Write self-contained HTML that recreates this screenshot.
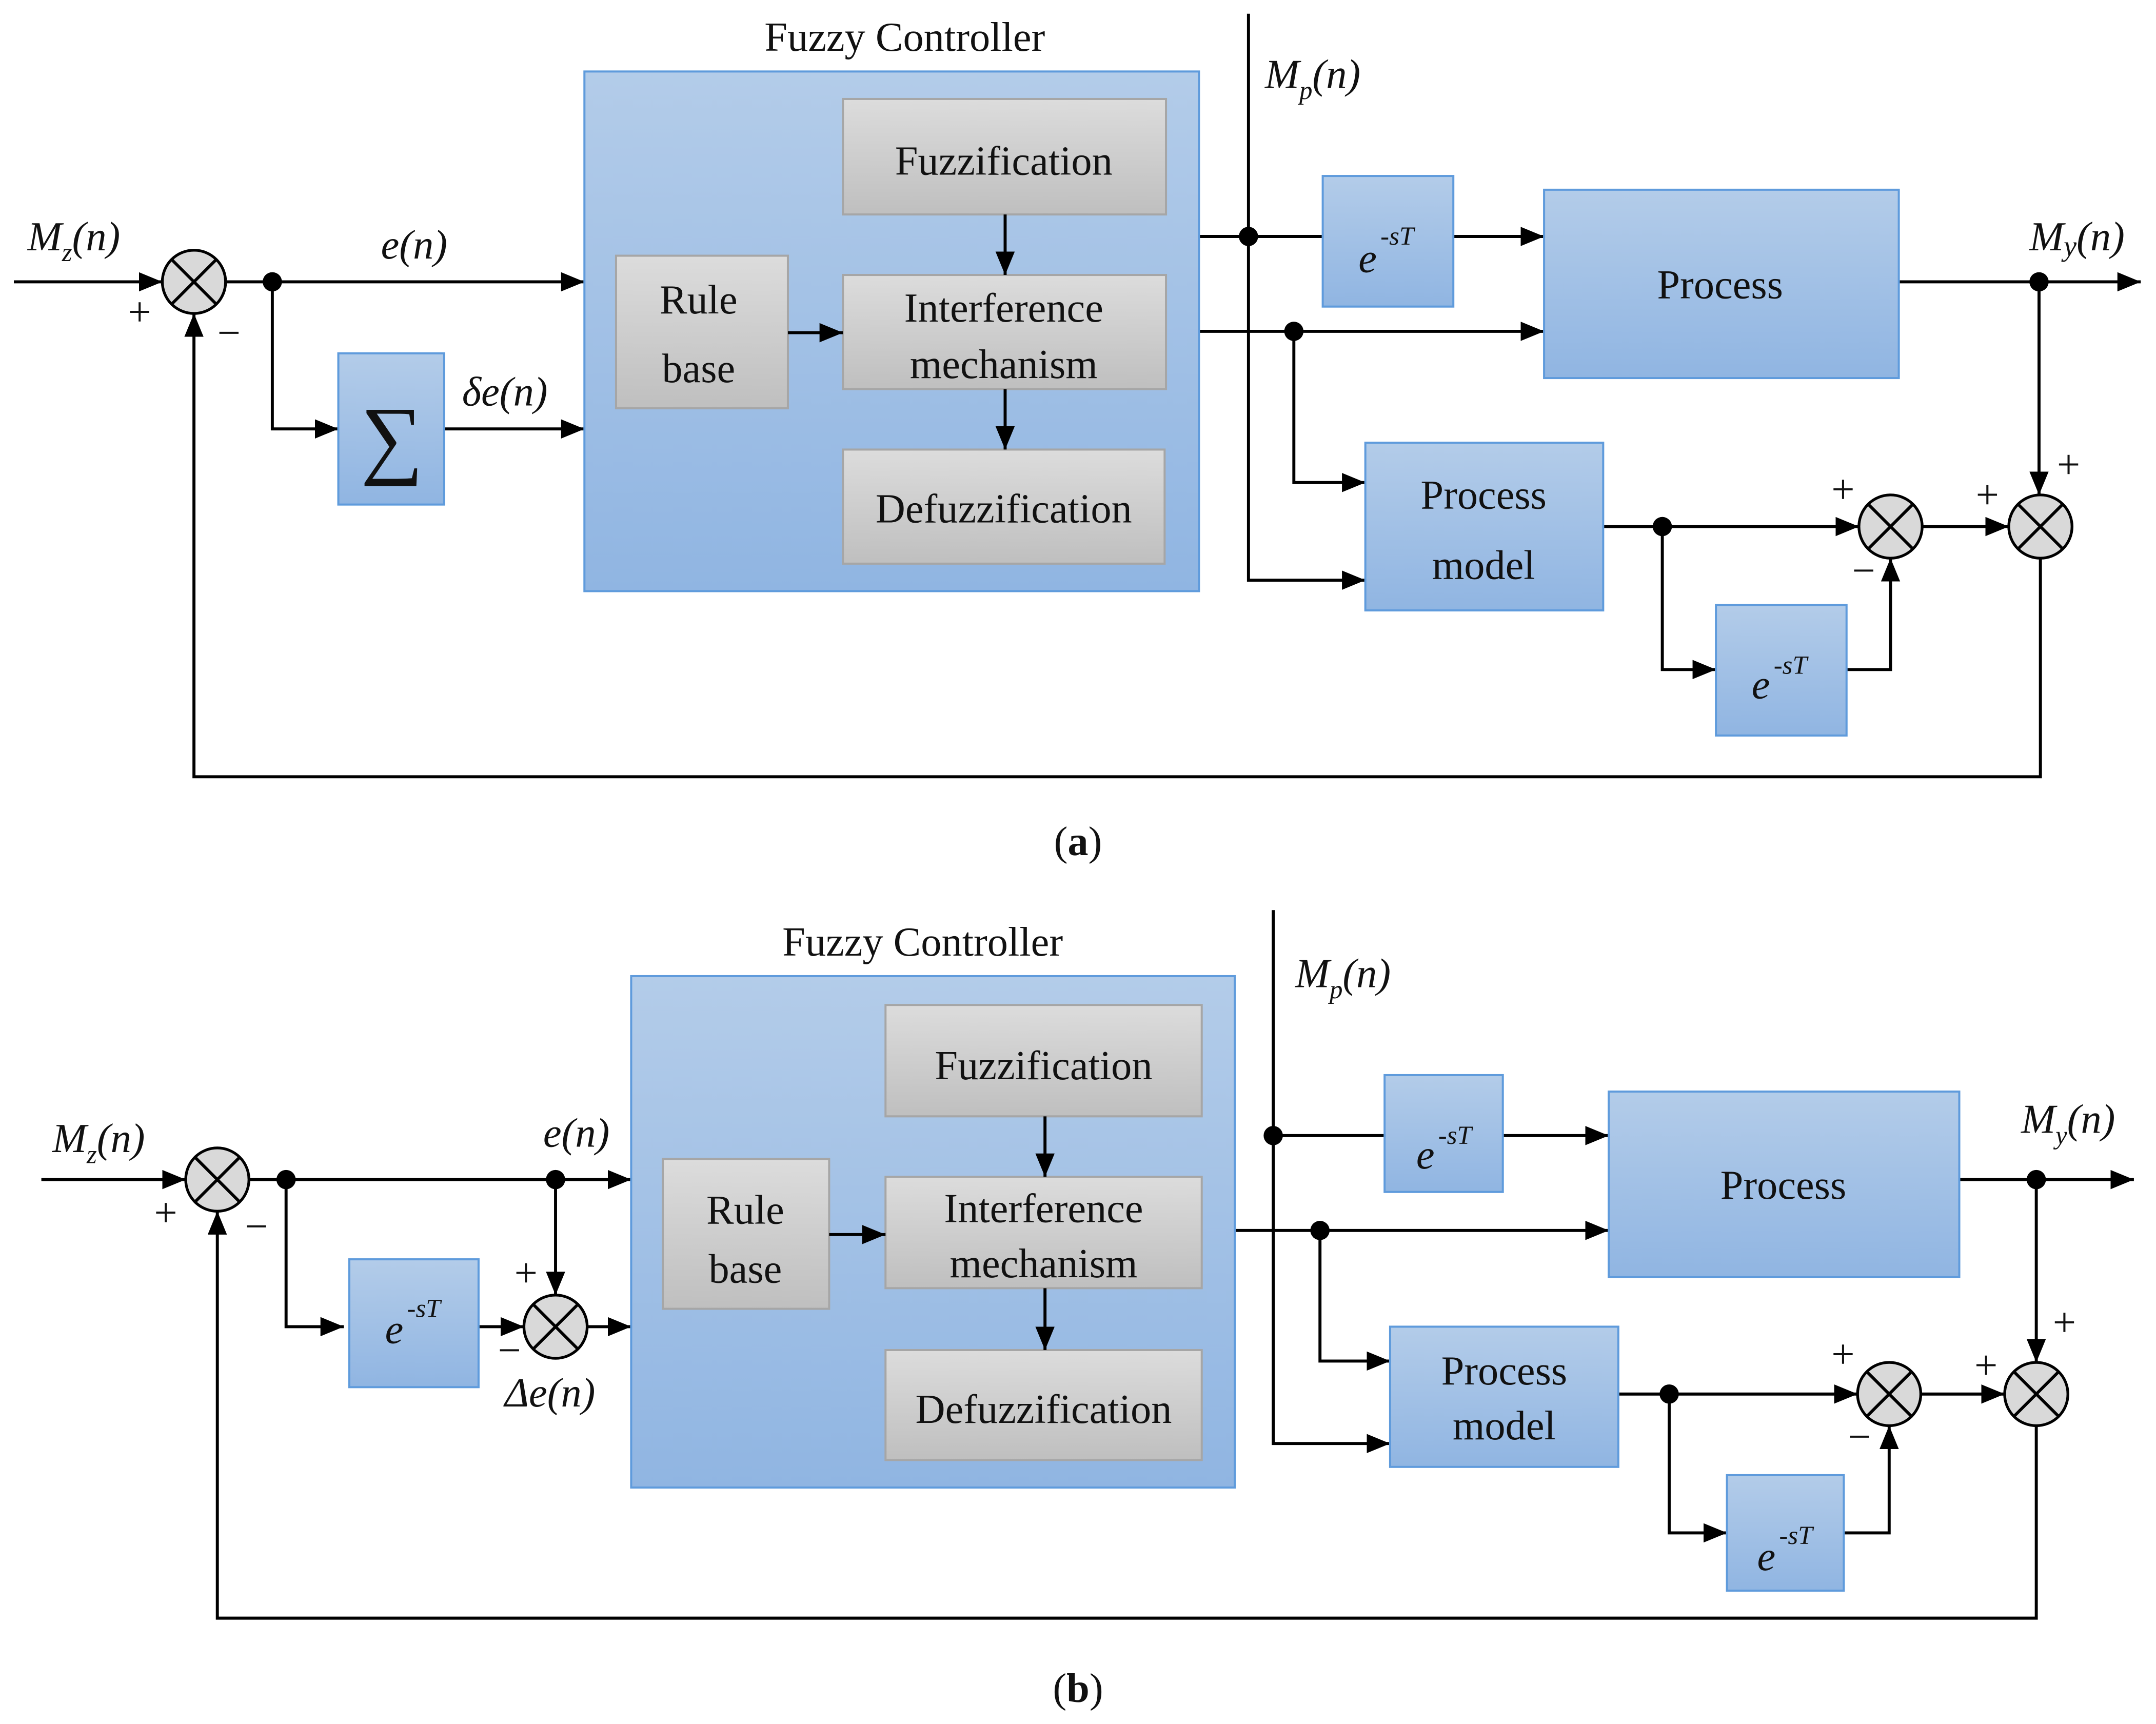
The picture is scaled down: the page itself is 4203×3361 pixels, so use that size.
<!DOCTYPE html>
<html><head><meta charset="utf-8"><style>html,body{margin:0;padding:0;background:#fff}svg{display:block}</style></head>
<body>
<svg xmlns="http://www.w3.org/2000/svg" width="4203" height="3361" viewBox="0 0 1568 1254">
<defs>
<linearGradient id="bl" x1="0" y1="0" x2="0" y2="1"><stop offset="0" stop-color="#b3cce9"/><stop offset="1" stop-color="#90b5e2"/></linearGradient>
<linearGradient id="gr" x1="0" y1="0" x2="0" y2="1"><stop offset="0" stop-color="#dcdcdc"/><stop offset="1" stop-color="#bfbfbf"/></linearGradient>
<marker id="A" viewBox="0 0 10 10" refX="10" refY="5" markerWidth="17" markerHeight="14" orient="auto" markerUnits="userSpaceOnUse" preserveAspectRatio="none"><path d="M0,0 L10,5 L0,10 z"/></marker>
</defs>
<style>
.b{fill:url(#bl);stroke:#5f9bdc;stroke-width:1.5}
.g{fill:url(#gr);stroke:#a6a6a6;stroke-width:1.5}
.l{fill:none;stroke:#000;stroke-width:2.2}
.s{fill:#d9d9d9;stroke:#000;stroke-width:2}
text{font-family:"Liberation Serif",serif;font-size:30px;fill:#111}
.i{font-style:italic}
.c{text-anchor:middle}
</style>
<g class="l" marker-end="url(#A)">
<path d="M10,205 H118"/>
<path d="M164,205 H425"/>
<path d="M198,205 V312 H246"/>
<path d="M323,312 H425"/>
<path d="M908,10 V422 H993"/>
<path d="M1057,172 H1123"/>
<path d="M872,241 H1123"/>
<path d="M941,241 V351 H993"/>
<path d="M1381,205 H1557"/>
<path d="M1483,205 V360"/>
<path d="M1166,383 H1352"/>
<path d="M1209,383 V487 H1248"/>
<path d="M1343,487 H1375 V406"/>
<path d="M1398,383 L1461,383"/>
<path d="M1484,406 V565 H141 V228"/>
<path d="M30,858 H135"/>
<path d="M181,858 H459"/>
<path d="M404,858 V942"/>
<path d="M208,858 V965 H250"/>
<path d="M348,965 H381"/>
<path d="M427,965 H459"/>
<path d="M926,662 V1050 H1011"/>
<path d="M1093,826 H1170"/>
<path d="M898,895 H1170"/>
<path d="M960,895 V990 H1011"/>
<path d="M1425,858 H1552"/>
<path d="M1481,858 V991"/>
<path d="M1177,1014 H1351"/>
<path d="M1214,1014 V1115 H1256"/>
<path d="M1341,1115 H1374 V1037"/>
<path d="M1397,1014 H1458"/>
<path d="M1481,1037 V1177 H158 V881"/>
</g>
<g class="l"><path d="M862,172 H962"/><path d="M926,826 H1007"/></g>
<rect class="b" x="425" y="52" width="447" height="378"/>
<rect class="g" x="613" y="72" width="235" height="84"/>
<rect class="g" x="448" y="186" width="125" height="111"/>
<rect class="g" x="613" y="200" width="235" height="83"/>
<rect class="g" x="613" y="327" width="234" height="83"/>
<rect class="b" x="246" y="257" width="77" height="110"/>
<rect class="b" x="962" y="128" width="95" height="95"/>
<rect class="b" x="1123" y="138" width="258" height="137"/>
<rect class="b" x="993" y="322" width="173" height="122"/>
<rect class="b" x="1248" y="440" width="95" height="95"/>
<rect class="b" x="459" y="710" width="439" height="372"/>
<rect class="g" x="644" y="731" width="230" height="81"/>
<rect class="g" x="482" y="843" width="121" height="109"/>
<rect class="g" x="644" y="856" width="230" height="81"/>
<rect class="g" x="644" y="982" width="230" height="80"/>
<rect class="b" x="254" y="916" width="94" height="93"/>
<rect class="b" x="1007" y="782" width="86" height="85"/>
<rect class="b" x="1170" y="794" width="255" height="135"/>
<rect class="b" x="1011" y="965" width="166" height="102"/>
<rect class="b" x="1256" y="1073" width="85" height="84"/>
<g class="l" marker-end="url(#A)">
<path d="M573,242 H613"/>
<path d="M731,156 V200"/>
<path d="M731,283 V327"/>
<path d="M603,898 H644"/>
<path d="M760,812 V856"/>
<path d="M760,937 V982"/>
</g>
<g>
<circle class="s" cx="141" cy="205" r="23"/><path class="l" d="M125,189 L157,221 M157,189 L125,221"/>
<circle class="s" cx="1375" cy="383" r="23"/><path class="l" d="M1359,367 L1391,399 M1391,367 L1359,399"/>
<circle class="s" cx="1484" cy="383" r="23"/><path class="l" d="M1468,367 L1500,399 M1500,367 L1468,399"/>
<circle class="s" cx="158" cy="858" r="23"/><path class="l" d="M142,842 L174,874 M174,842 L142,874"/>
<circle class="s" cx="404" cy="965" r="23"/><path class="l" d="M388,949 L420,981 M420,949 L388,981"/>
<circle class="s" cx="1374" cy="1014" r="23"/><path class="l" d="M1358,998 L1390,1030 M1390,998 L1358,1030"/>
<circle class="s" cx="1481" cy="1014" r="23"/><path class="l" d="M1465,998 L1497,1030 M1497,998 L1465,1030"/>
</g>
<g fill="#000">
<circle cx="198" cy="205" r="7"/><circle cx="908" cy="172" r="7"/><circle cx="941" cy="241" r="7"/>
<circle cx="1483" cy="205" r="7"/><circle cx="1209" cy="383" r="7"/>
<circle cx="208" cy="858" r="7"/><circle cx="404" cy="858" r="7"/><circle cx="926" cy="826" r="7"/>
<circle cx="960" cy="895" r="7"/><circle cx="1481" cy="858" r="7"/><circle cx="1214" cy="1014" r="7"/>
</g>
<text class="c" x="658" y="37">Fuzzy Controller</text>
<text class="c" x="730" y="127">Fuzzification</text>
<text class="c" x="508" y="228">Rule</text>
<text class="c" x="508" y="278">base</text>
<text class="c" x="730" y="234">Interference</text>
<text class="c" x="730" y="275">mechanism</text>
<text class="c" x="730" y="380">Defuzzification</text>
<text class="c" x="285" y="340" style="font-size:64px">∑</text>
<text class="c" x="1251" y="217">Process</text>
<text class="c" x="1079" y="370">Process</text>
<text class="c" x="1079" y="421">model</text>
<text class="i" x="988" y="198">e</text><text class="i" x="1004" y="178" style="font-size:19px">-sT</text>
<text class="i" x="1274" y="508">e</text><text class="i" x="1290" y="490" style="font-size:19px">-sT</text>
<text class="i" x="20" y="182">M<tspan style="font-size:19px" dy="8">z</tspan><tspan dy="-8">(n)</tspan></text>
<text class="i" x="277" y="188">e(n)</text>
<text class="i" x="336" y="295">δe(n)</text>
<text class="i" x="920" y="64">M<tspan style="font-size:19px" dy="8">p</tspan><tspan dy="-8">(n)</tspan></text>
<text class="i" x="1476" y="182">M<tspan style="font-size:21px" dy="4">y</tspan><tspan dy="-4">(n)</tspan></text>
<g style="font-size:20px"><text x="93" y="237">+</text><text x="158" y="252">−</text>
<text x="1332" y="366">+</text><text x="1347" y="425">−</text><text x="1437" y="370">+</text><text x="1496" y="348">+</text></g>
<text class="c" x="784" y="622"><tspan>(</tspan><tspan font-weight="bold">a</tspan><tspan>)</tspan></text>
<text class="c" x="671" y="695">Fuzzy Controller</text>
<text class="c" x="759" y="785">Fuzzification</text>
<text class="c" x="542" y="890">Rule</text>
<text class="c" x="542" y="933">base</text>
<text class="c" x="759" y="889">Interference</text>
<text class="c" x="759" y="929">mechanism</text>
<text class="c" x="759" y="1035">Defuzzification</text>
<text class="c" x="1297" y="872">Process</text>
<text class="c" x="1094" y="1007">Process</text>
<text class="c" x="1094" y="1047">model</text>
<text class="i" x="280" y="977">e</text><text class="i" x="296" y="958" style="font-size:19px">-sT</text>
<text class="i" x="1030" y="850">e</text><text class="i" x="1046" y="832" style="font-size:19px">-sT</text>
<text class="i" x="1278" y="1142">e</text><text class="i" x="1294" y="1123" style="font-size:19px">-sT</text>
<text class="i" x="38" y="838">M<tspan style="font-size:19px" dy="8">z</tspan><tspan dy="-8">(n)</tspan></text>
<text class="i" x="395" y="834">e(n)</text>
<text class="i" x="367" y="1023">Δe(n)</text>
<text class="i" x="942" y="718">M<tspan style="font-size:19px" dy="8">p</tspan><tspan dy="-8">(n)</tspan></text>
<text class="i" x="1470" y="824">M<tspan style="font-size:19px" dy="8">y</tspan><tspan dy="-8">(n)</tspan></text>
<g style="font-size:20px"><text x="112" y="892">+</text><text x="178" y="902">−</text>
<text x="374" y="936">+</text><text x="362" y="992">−</text>
<text x="1332" y="995">+</text><text x="1344" y="1055">−</text><text x="1436" y="1003">+</text><text x="1493" y="972">+</text></g>
<text class="c" x="784" y="1238"><tspan>(</tspan><tspan font-weight="bold">b</tspan><tspan>)</tspan></text>
</svg>
</body></html>
